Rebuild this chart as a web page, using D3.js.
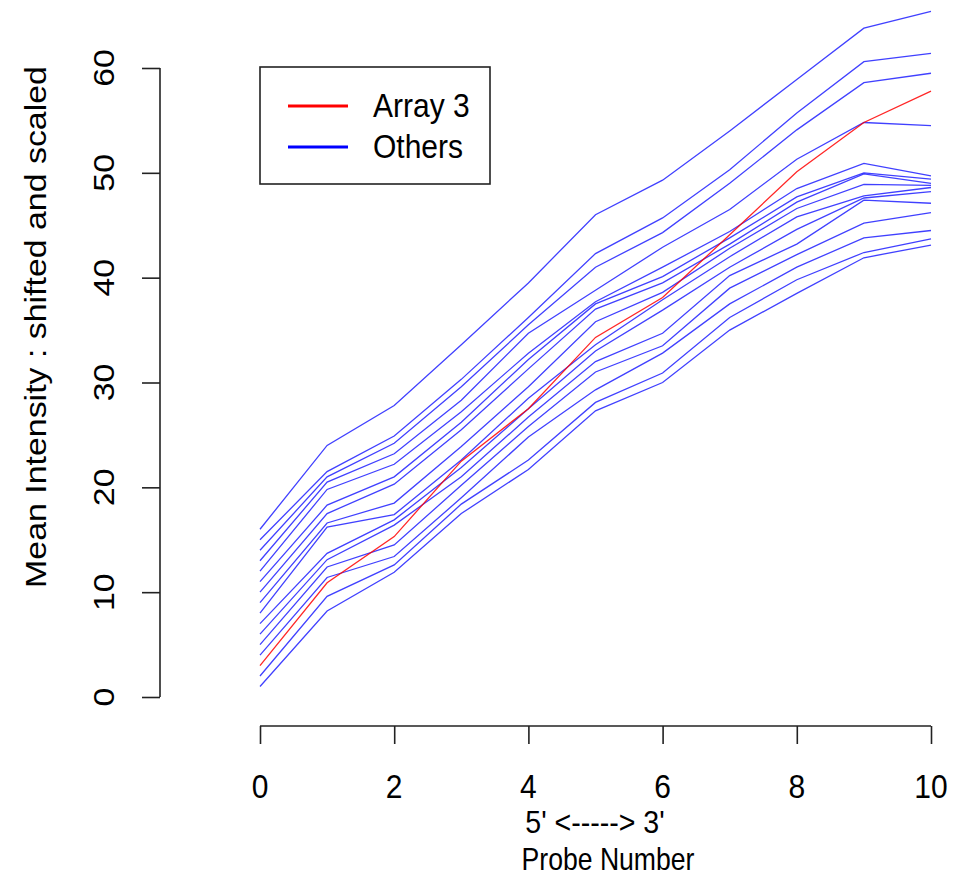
<!DOCTYPE html>
<html>
<head>
<meta charset="utf-8">
<script src="https://cdn.jsdelivr.net/npm/d3@7"></script>
<style>
	body { margin: 0; background: #fff; }
	text { font-family: "Liberation Sans", Arial, sans-serif; fill: #000; }
</style>
</head>
<body>
<div id="chart"></div>
<script>
// probe positions along the x axis
var probeNumbers = [0, 1, 2, 3, 4, 5, 6, 7, 8, 9, 10];
var xTicks = [0, 2, 4, 6, 8, 10];
var yTicks = [0, 10, 20, 30, 40, 50, 60];

// red line
var array3 = [3, 10.9, 15.3, 22.5, 27.5, 34.3, 38.1, 44.1, 50.1, 54.8, 57.8];

// blue lines
var others = [
	[16, 24.0, 27.8, 33.6, 39.5, 46.0, 49.3, 54.0, 58.9, 63.8, 65.4],
	[15, 21.5, 24.9, 30.3, 36.2, 42.3, 45.7, 50.3, 55.7, 60.6, 61.4],
	[14, 21.0, 24.2, 29.6, 35.5, 41.0, 44.3, 49.0, 54.1, 58.6, 59.5],
	[13, 20.5, 23.2, 28.3, 34.7, 38.8, 42.9, 46.5, 51.3, 54.8, 54.5],
	[12, 19.8, 22.2, 27.2, 32.8, 37.7, 41.0, 44.4, 48.5, 50.9, 49.7],
	[11, 18.3, 21.0, 26.2, 32.2, 37.5, 40.1, 43.8, 47.7, 50.0, 49.4],
	[10, 17.5, 20.3, 25.5, 31.3, 37.0, 39.5, 43.2, 47.2, 49.9, 49.0],
	[9, 16.6, 18.5, 23.9, 29.6, 35.8, 38.6, 42.8, 46.6, 48.9, 48.8],
	[8, 16.2, 17.4, 22.6, 28.5, 33.6, 37.9, 42.0, 45.8, 47.8, 48.6],
	[7, 13.7, 16.9, 21.9, 27.5, 33.0, 36.9, 41.0, 44.6, 47.6, 48.2],
	[6, 13.1, 16.4, 21.0, 26.7, 32.0, 34.7, 40.2, 43.2, 47.4, 47.1],
	[5, 12.4, 14.5, 20.2, 25.8, 31.0, 33.5, 39.0, 42.2, 45.2, 46.2],
	[4, 11.4, 13.4, 19.0, 24.8, 29.3, 32.8, 37.5, 41.0, 43.8, 44.5],
	[2, 9.6, 12.6, 18.4, 22.6, 28.1, 30.9, 36.2, 39.8, 42.4, 43.7],
	[1, 8.2, 11.9, 17.5, 21.7, 27.3, 30.0, 35.0, 38.5, 41.9, 43.1]
];

var legendLabels = ['Array 3', 'Others'];
var legendColors = ['#ff0000', '#0000ff'];

var width = 959;
var height = 877;
var fontSize = 30;
var stretch = 1.13;

var svg = d3.select('#chart')
	.append('svg')
	.attr('width', width)
	.attr('height', height);

var x = d3.scaleLinear()
	.domain([0, 10])
	.range([260, 931]);

var y = d3.scaleLinear()
	.domain([0, 60])
	.range([697, 68]);

// lines
var line = d3.line()
	.x(function(d, i) { return x(probeNumbers[i]); })
	.y(function(d) { return y(d); });

svg.append('g')
	.selectAll('path')
	.data(others)
	.enter()
	.append('path')
	.attr('d', line)
	.attr('fill', 'none')
	.attr('stroke', '#0000ff')
	.attr('stroke-opacity', 0.75)
	.attr('stroke-width', 1.3);

svg.append('path')
	.attr('d', line(array3))
	.attr('fill', 'none')
	.attr('stroke', '#ff0000')
	.attr('stroke-opacity', 0.85)
	.attr('stroke-width', 1.3);

// x axis, R style: line between first and last tick
var xAxis = svg.append('g')
	.attr('transform', 'translate(0,726)')
	.call(d3.axisBottom(x).tickValues(xTicks).tickSize(18).tickFormat(''));

xAxis.select('.domain').attr('d', 'M' + x(0) + ',0H' + x(10));
xAxis.selectAll('line, path').attr('stroke', '#222').attr('stroke-width', 1.6);

svg.append('g')
	.selectAll('text')
	.data(xTicks)
	.enter()
	.append('text')
	.attr('text-anchor', 'middle')
	.attr('font-size', fontSize)
	.attr('transform', function(d) { return 'translate(' + x(d) + ',798) scale(1,' + stretch + ')'; })
	.text(function(d) { return d; });

// y axis
var yAxis = svg.append('g')
	.attr('transform', 'translate(160,0)')
	.call(d3.axisLeft(y).tickValues(yTicks).tickSize(18).tickFormat(''));

yAxis.select('.domain').attr('d', 'M0,' + y(0) + 'V' + y(60));
yAxis.selectAll('line, path').attr('stroke', '#222').attr('stroke-width', 1.6);

svg.append('g')
	.selectAll('text')
	.data(yTicks)
	.enter()
	.append('text')
	.attr('text-anchor', 'middle')
	.attr('font-size', fontSize)
	.attr('transform', function(d) { return 'translate(114,' + y(d) + ') scale(1,' + stretch + ') rotate(-90)'; })
	.text(function(d) { return d; });

// axis titles
svg.append('text')
	.attr('text-anchor', 'middle')
	.attr('font-size', fontSize)
	.attr('transform', 'translate(46,327) scale(1,' + stretch + ') rotate(-90)')
	.text('Mean Intensity : shifted and scaled');

svg.append('text')
	.attr('text-anchor', 'middle')
	.attr('font-size', 28)
	.attr('transform', 'translate(595,833) scale(1.02,1.1)')
	.text("5' <-----> 3'");

svg.append('text')
	.attr('text-anchor', 'middle')
	.attr('font-size', 28)
	.attr('transform', 'translate(608,870) scale(0.95,1.1)')
	.text('Probe Number');

// legend
var legend = svg.append('g');

legend.append('rect')
	.attr('x', 260)
	.attr('y', 67)
	.attr('width', 230)
	.attr('height', 117)
	.attr('fill', '#fff')
	.attr('stroke', '#222')
	.attr('stroke-width', 1.6);

var items = legend.selectAll('.legend-item')
	.data(legendLabels)
	.enter()
	.append('g')
	.attr('class', 'legend-item')
	.attr('transform', function(d, i) { return 'translate(0,' + (106 + i * 41) + ')'; });

items.append('line')
	.attr('x1', 288)
	.attr('x2', 348)
	.attr('stroke', function(d, i) { return legendColors[i]; })
	.attr('stroke-width', 3);

items.append('text')
	.attr('font-size', fontSize)
	.attr('transform', 'translate(373,11) scale(1,' + stretch + ')')
	.text(function(d) { return d; });
</script>
</body>
</html>
